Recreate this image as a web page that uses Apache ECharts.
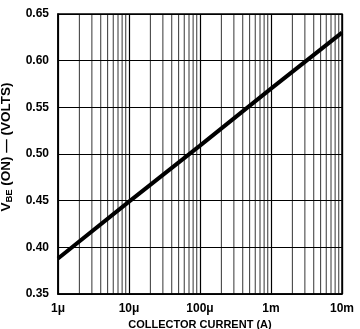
<!DOCTYPE html>
<html>
<head>
<meta charset="utf-8">
<script src="https://cdn.jsdelivr.net/npm/echarts@6/dist/echarts.min.js"></script>
<style>
html, body { margin: 0; padding: 0; background: #fff; }
#chart { width: 360px; height: 329px; }
</style>
</head>
<body>
<div id="chart"></div>
<script>
// collector current (A) vs VBE(on) (V)
var current = [1e-6, 1e-5, 1e-4, 1e-3, 1e-2];
var vbe = [0.388, 0.449, 0.509, 0.570, 0.630];
var xTickLabels = {'-6': '1\u03bc', '-5': '10\u03bc', '-4': '100\u03bc', '-3': '1m', '-2': '10m'};
var yTicks = [0.35, 0.40, 0.45, 0.50, 0.55, 0.60, 0.65];
var minorMult = [2, 3, 4, 5, 6, 7, 8, 9];

var fontFam = '"Liberation Sans", Arial, sans-serif';

// minor log grid lines (2..9 in each decade), as thin vertical series
var minorSeries = [];
for (var e = -6; e < -2; e++) {
    minorMult.forEach(function (k) {
        var x = k * Math.pow(10, e);
        minorSeries.push({
            type: 'line',
            data: [[x, yTicks[0]], [x, yTicks[yTicks.length - 1]]],
            symbol: 'none',
            silent: true,
            lineStyle: { color: '#000', width: 0.8 },
            z: 1
        });
    });
}

var chart = echarts.init(document.getElementById('chart'));
chart.setOption({
    animation: false,
    grid: {
        left: 58, right: 18, top: 14, bottom: 35,
        outerBoundsMode: 'none',
        containLabel: false,
        show: true, borderColor: '#000', borderWidth: 1.5
    },
    xAxis: {
        type: 'log',
        logBase: 10,
        min: 1e-6,
        max: 1e-2,
        name: 'COLLECTOR CURRENT (A)',
        nameLocation: 'middle',
        nameGap: 18,
        nameTextStyle: { fontFamily: fontFam, fontWeight: 'bold', fontSize: 11, color: '#000' },
        axisLine: { show: true, lineStyle: { color: '#000', width: 1.5 } },
        axisTick: { show: false },
        axisLabel: {
            fontFamily: fontFam, fontWeight: 'bold', fontSize: 12, color: '#000', margin: 9,
            formatter: function (v) {
                var ex = Math.round(Math.log10(v));
                return xTickLabels[String(ex)] || '';
            }
        },
        splitLine: { show: true, lineStyle: { color: '#000', width: 1.2 } }
    },
    yAxis: {
        type: 'value',
        min: yTicks[0],
        max: yTicks[yTicks.length - 1],
        interval: 0.05,
        name: '{g|}{v|V}{s|BE}{v| (ON) \u2014 (VOLTS)}',
        nameLocation: 'middle',
        nameGap: 43,
        nameTextStyle: {
            color: '#000',
            rich: {
                g: { width: 14, lineHeight: 16 },
                v: { fontFamily: fontFam, fontWeight: 'bold', fontSize: 13.5, color: '#000', lineHeight: 16 },
                s: { fontFamily: fontFam, fontWeight: 'bold', fontSize: 9.5, color: '#000', lineHeight: 16, padding: [7, 0, 0, 0] }
            }
        },
        axisLine: { show: true, lineStyle: { color: '#000', width: 1.5 } },
        axisTick: { show: false },
        axisLabel: {
            fontFamily: fontFam, fontWeight: 'bold', fontSize: 12, color: '#000', margin: 9,
            formatter: function (v) { return v.toFixed(2); }
        },
        splitLine: { show: true, lineStyle: { color: '#000', width: 1.2 } }
    },
    series: minorSeries.concat([{
        type: 'line',
        data: current.map(function (c, i) { return [c, vbe[i]]; }),
        symbol: 'none',
        lineStyle: { color: '#000', width: 4 },
        silent: true,
        z: 5
    }])
});
</script>
</body>
</html>
